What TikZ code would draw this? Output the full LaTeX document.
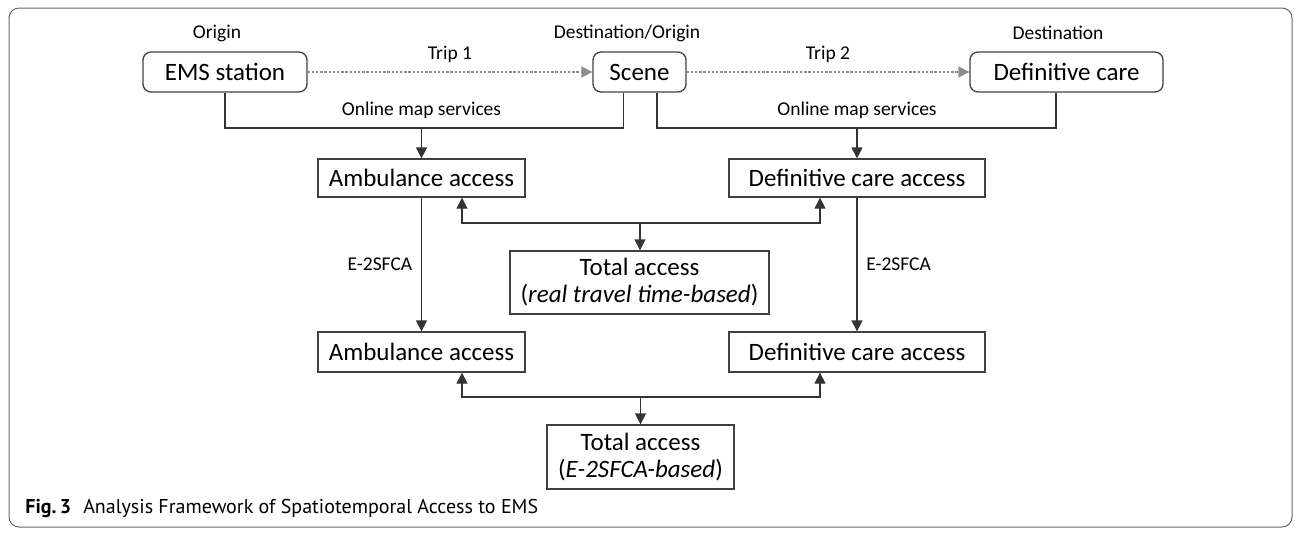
\documentclass[tikz,border=0pt]{standalone}
\usepackage{fontspec}
\setmainfont{Carlito}
\newfontfamily\capfont{PT Sans}
\usetikzlibrary{arrows.meta,calc}
\definecolor{boxline}{gray}{0.25}
\definecolor{linecol}{gray}{0.2}
\definecolor{tripcol}{gray}{0.55}
\definecolor{framecol}{gray}{0.4}
\tikzset{
  rbox/.style={draw=boxline,line width=0.65pt,rounded corners=4pt,inner sep=0pt,font=\fontsize{12.5}{15}\selectfont,minimum height=20pt},
  abox/.style={draw=boxline,line width=0.65pt,inner sep=0pt,font=\fontsize{12.5}{15}\selectfont,minimum height=19pt},
  tbox/.style={abox,align=center,font=\fontsize{12.5}{13.5}\selectfont},
  lab/.style={font=\fontsize{9.75}{11}\selectfont},
  conn/.style={draw=linecol,line width=0.65pt},
  arr/.style={conn,-{Triangle[length=5.5pt,width=5.5pt]}},
  trip/.style={draw=tripcol,line width=0.7pt,dash pattern=on 1.2pt off 0.9pt,-{Triangle[length=5.5pt,width=5.5pt]}},
}

\begin{document}
\begin{tikzpicture}[x=0.5pt,y=-0.5pt]
  \useasboundingbox (0,0) rectangle (1295,532);
  \draw[framecol,line width=0.5pt,rounded corners=5pt] (9,8) rectangle (1292,527);
  % trips
  \node[rbox,minimum width=82pt] (ems) at (225,72) {EMS station};
  \node[rbox,minimum width=46.5pt] (scene) at (639.5,72) {Scene};
  \node[rbox,minimum width=96.5pt] (defc) at (1066.5,72) {Definitive care};
  \node[lab] (origin) at (217,33) {Origin};
  \node[lab] (destorig) at (627,33) {Destination/Origin};
  \node[lab] (dest) at (1058,33) {Destination};
  \draw[trip] (ems) -- (scene) node[lab,midway,above=1pt] (trip1) {Trip 1};
  \draw[trip] (scene) -- (defc) node[lab,midway,above=1pt] (trip2) {Trip 2};
  % access boxes
  \node[abox,minimum width=103.5pt] (amb1) at (421.5,178) {Ambulance access};
  \node[abox,minimum width=128pt] (dca1) at (857,178) {Definitive care access};
  \node[tbox,minimum width=129.5pt,minimum height=31.5pt] (tot1) at (639.5,282.5) {Total access\\(\textit{real travel time-based})};
  \node[abox,minimum width=103.5pt,minimum height=20pt] (amb2) at (421.5,352) {Ambulance access};
  \node[abox,minimum width=128pt,minimum height=20pt] (dca2) at (857,352) {Definitive care access};
  \node[tbox,minimum width=93.5pt,minimum height=32pt] (tot2) at (640.5,457) {Total access\\(\textit{E-2SFCA-based})};
  % online map services
  \coordinate (mapL) at (421.5,128);
  \coordinate (mapR) at (857,128);
  \draw[conn] (ems.south) |- (mapL) -| ([xshift=-8pt]scene.south);
  \draw[conn] ([xshift=8.75pt]scene.south) |- (mapR) -| ([xshift=-5.25pt]defc.south);
  \node[lab,above=1pt] (mapLlab) at (mapL) {Online map services};
  \node[lab,above=1pt] (mapRlab) at (mapR) {Online map services};
  \draw[arr] (mapL) -- (amb1.north);
  \draw[arr] (mapR) -- (dca1.north);
  % E-2SFCA
  \draw[arr] (amb1) -- (amb2) node[lab,midway,left=1pt] (e2sl) {E-2SFCA};
  \draw[arr] (dca1) -- (dca2) node[lab,midway,right=1pt] (e2sr) {E-2SFCA};
  % totals
  \coordinate (jn1) at (640,223);
  \draw[arr] (jn1) -- (jn1 |- tot1.north);
  \draw[arr] (jn1) -| ([xshift=20.25pt]amb1.south);
  \draw[arr] (jn1) -| ([xshift=-18.5pt]dca1.south);
  \coordinate (jn2) at (640.5,397);
  \draw[arr] (jn2) -- (jn2 |- tot2.north);
  \draw[arr] (jn2) -| ([xshift=20.25pt]amb2.south);
  \draw[arr] (jn2) -| ([xshift=-18.5pt]dca2.south);
  % caption
  \node[anchor=west,inner sep=0pt,font=\capfont\fontsize{10}{12}\selectfont] (capt) at (25,508) {\textbf{Fig.\,3}\hspace{0.6em}Analysis Framework of Spatiotemporal Access to EMS};
\end{tikzpicture}
\end{document}
